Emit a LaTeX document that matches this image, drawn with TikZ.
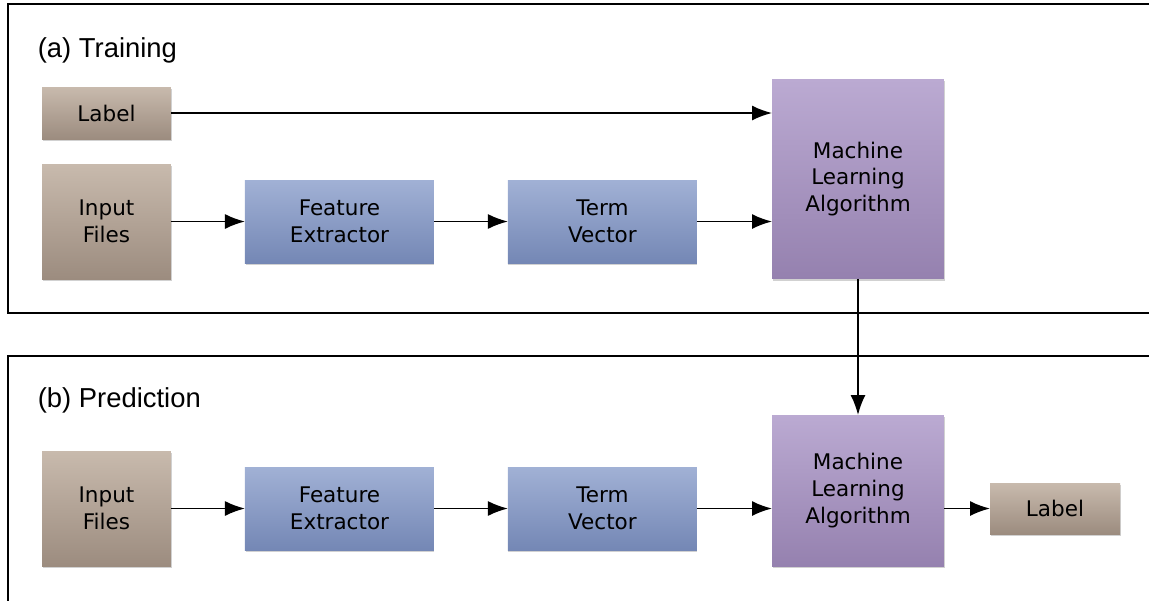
\documentclass[tikz,border=0pt]{standalone}
\usepackage{fontspec}
\setmainfont{DejaVu Sans}
\newfontfamily\titlefont{Liberation Sans}
\usepackage{tikz}
\usetikzlibrary{arrows.meta,positioning,shadows}

\definecolor{browntop}{HTML}{C8BAAD}
\definecolor{brownbot}{HTML}{9C8C7F}
\definecolor{bluetop}{HTML}{A1B1D5}
\definecolor{bluebot}{HTML}{7487B5}
\definecolor{purptop}{HTML}{BBAAD2}
\definecolor{purpbot}{HTML}{9581AF}

\begin{document}
\begin{tikzpicture}[x=0.02cm,y=-0.02cm,every node/.style={outer sep=0pt},
 box/.style={inner sep=0pt,align=center,font=\fontsize{12.25}{15.3}\selectfont,
  drop shadow={shadow xshift=0.3pt,shadow yshift=-0.9pt,opacity=0.18,fill=black}},
 inbox/.style={box,top color=browntop,bottom color=brownbot,minimum width=2.58cm},
 featbox/.style={box,top color=bluetop,bottom color=bluebot,minimum width=3.78cm,
  minimum height=1.66cm},
 mlbox/.style={box,top color=purptop,bottom color=purpbot,minimum width=3.44cm},
 panel/.style={line width=1.1pt},
 arr/.style={line width=1pt,-{Latex[length=4mm,width=3mm]}},
 title/.style={anchor=base west,font=\titlefont\fontsize{15.6}{18}\selectfont}]

  \useasboundingbox (0,0) rectangle (1149,600);

  % (a) training
  \draw[panel] (1170,4) -- (8,4) -- (8,313) -- (1170,313);
  \node[title] (ta) at (32,57) {(a) Training};

  \node[inbox,minimum height=1.04cm] (laba) at (106.5,113) {Label};
  \node[inbox,minimum height=2.3cm] (ina) at (106.5,221.5) {Input\\Files};
  \node[featbox,right=1.48cm of ina] (fea) {Feature\\Extractor};
  \node[featbox,right=1.48cm of fea] (tva) {Term\\Vector};
  \node[mlbox,minimum height=4cm] (mla) at (858,179)
   {Machine\\Learning\\Algorithm};

  \draw[arr] (laba.east) -- (laba.east -| mla.west);

  % (b) prediction
  \draw[panel] (1170,356) -- (8,356) -- (8,620);
  \node[title] (tb) at (32,407) {(b) Prediction};

  \node[inbox,minimum height=2.3cm] (inb) at (106.5,508.5) {Input\\Files};
  \node[featbox,right=1.48cm of inb] (feb) {Feature\\Extractor};
  \node[featbox,right=1.48cm of feb] (tvb) {Term\\Vector};
  \node[mlbox,minimum height=3.02cm] (mlb) at (858,490.5)
   {Machine\\Learning\\Algorithm};
  \node[inbox,minimum width=2.6cm,minimum height=1.02cm] (labb) at (1055,508.5) {Label};

  \foreach \X in {a,b}
  {\draw[arr] (in\X) -- (fe\X);
   \draw[arr] (fe\X) -- (tv\X);
   \draw[arr] (tv\X.east) -- (tv\X.east -| ml\X.west);
  }
  \draw[arr] (labb.west -| mlb.east) -- (labb.west);
  \draw[arr] (mla) -- (mlb);

\end{tikzpicture}
\end{document}
